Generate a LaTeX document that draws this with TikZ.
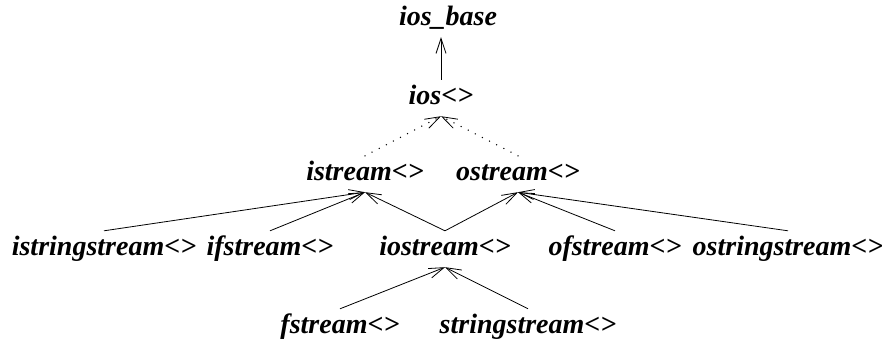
\documentclass[tikz,border=0pt]{standalone}
\usepackage{fontspec}
\setmainfont{Liberation Serif}
\usetikzlibrary{arrows.meta}

\begin{document}
\begin{tikzpicture}[x=1pt, y=-1pt,
  cls/.style={anchor=base, inner xsep=2pt, inner ysep=6pt, text height=18pt, text depth=6pt,
    font=\fontsize{28}{28}\selectfont\bfseries\itshape},
  inh/.style={-{Straight Barb[length=15pt, width=10pt, line width=0.8pt]}, line width=0.8pt},
  vinh/.style={inh, line width=1.5pt, line cap=round, dash pattern=on 0pt off 8pt}]
\useasboundingbox (0,0) rectangle (882,340);
\node[cls] (base) at (448, 25) {ios\_base};
\node[cls] (ios) at (441, 104) {ios<>};
\node[cls] (istr) at (365, 180) {istream<>};
\node[cls] (ostr) at (518, 180) {ostream<>};
\node[cls] (isstr) at (104, 255) {istringstream<>};
\node[cls] (ifstr) at (270, 255) {ifstream<>};
\node[cls] (iostr) at (445, 255) {iostream<>};
\node[cls] (ofstr) at (615, 255) {ofstream<>};
\node[cls] (osstr) at (788, 255) {ostringstream<>};
\node[cls] (fstr) at (340, 333) {fstream<>};
\node[cls] (sstr) at (528, 333) {stringstream<>};
\draw[inh] (ios.north) -- (ios.north |- base.south);
\draw[vinh] (istr.north) -- (ios.south); \draw[vinh] (ostr.north) -- (ios.south);
\draw[inh] (isstr.north) -- (istr.south); \draw[inh] (ifstr.north) -- (istr.south); \draw[inh] (iostr.north) -- (istr.south);
\draw[inh] (iostr.north) -- (ostr.south); \draw[inh] (ofstr.north) -- (ostr.south); \draw[inh] (osstr.north) -- (ostr.south);
\draw[inh] (fstr.north) -- (iostr.south); \draw[inh] (sstr.north) -- (iostr.south);
\end{tikzpicture}
\end{document}
